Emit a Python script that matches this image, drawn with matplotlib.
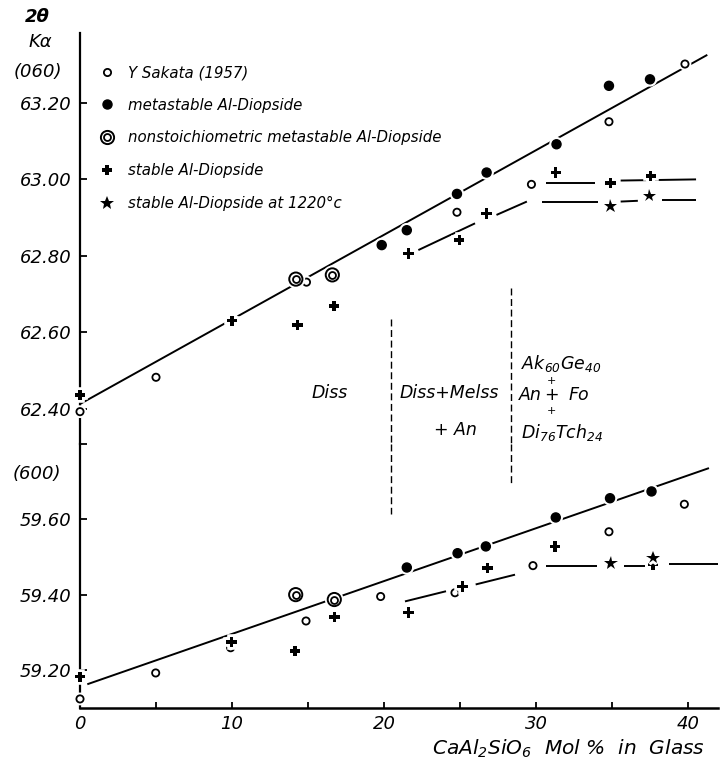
import matplotlib
matplotlib.use("Agg")
import matplotlib.pyplot as plt
import matplotlib.patheffects as pe
from matplotlib.lines import Line2D
from matplotlib.legend_handler import HandlerTuple

plt.rcParams['font.family'] = ['DejaVu Sans']
plt.rcParams['font.style'] = 'italic'
plt.rcParams['mathtext.default'] = 'it'

# ---------------- (060) reflection, 2-theta ----------------
sak_060_x = [0.0, 5.0, 14.9, 24.8, 29.7, 34.8, 39.8]
sak_060_y = [62.392, 62.482, 62.731, 62.914, 62.987, 63.151, 63.302]
meta_060_x = [10.0, 19.85, 21.5, 24.8, 26.75, 31.35, 34.8, 37.5]
meta_060_y = [62.630, 62.828, 62.867, 62.962, 63.018, 63.092, 63.245, 63.262]
nonst_060_x = [14.2, 16.6]
nonst_060_y = [62.739, 62.750]
stab_060_x = [0.0, 10.0, 14.3, 16.7, 21.6, 24.95, 26.75, 31.3, 34.9, 37.55]
stab_060_y = [62.436, 62.630, 62.619, 62.669, 62.806, 62.841, 62.911, 63.018,
              62.991, 63.009]
s1220_060_x = [34.9, 37.45]
s1220_060_y = [62.930, 62.957]

# fitted metastable trend and stable-phase trend pieces
fit_060_x = [0.0, 41.27]
fit_060_y = [62.412, 63.326]
stab_seg_060 = [
    ([22.26, 25.99], [62.815, 62.885]),
    ([27.4, 29.4], [62.907, 62.942]),
    ([30.37, 34.1], [62.942, 62.942]),
    ([35.57, 36.7], [62.942, 62.944]),
    ([38.3, 40.5], [62.946, 62.946]),
    ([30.66, 33.88], [62.991, 62.991]),
    ([35.57, 40.53], [62.997, 63.000]),
]

# ---------------- (600) reflection, 2-theta ----------------
sak_600_x = [0.0, 4.98, 9.91, 14.87, 19.78, 24.67, 29.8, 34.8, 39.76]
sak_600_y = [59.123, 59.192, 59.259, 59.330, 59.395, 59.405, 59.477, 59.567, 59.640]
meta_600_x = [21.5, 24.84, 26.7, 31.3, 34.87, 37.6]
meta_600_y = [59.472, 59.510, 59.528, 59.605, 59.656, 59.674]
nonst_600_x = [14.19, 16.73]
nonst_600_y = [59.400, 59.387]
stab_600_x = [0.0, 9.98, 14.14, 16.73, 21.6, 25.17, 26.8, 31.25, 37.7]
stab_600_y = [59.182, 59.274, 59.250, 59.340, 59.352, 59.422, 59.471, 59.528, 59.480]
s1220_600_x = [34.93, 37.7]
s1220_600_y = [59.484, 59.498]

fit_600_x = [0.48, 41.38]
fit_600_y = [59.162, 59.736]
stab_seg_600 = [
    ([21.38, 24.08], [59.382, 59.409]),
    ([26.03, 28.62], [59.427, 59.453]),
    ([30.64, 33.99], [59.475, 59.475]),
    ([35.79, 37.17], [59.477, 59.477]),
    ([38.75, 42.0], [59.482, 59.482]),
]

# phase-field boundaries (mol %) and their extent on each scale
bound_x = [20.46, 28.36]
bound_top_060 = [62.635, 62.716]
bound_bot_600 = [59.615, 59.694]

x_ticks = [0, 10, 20, 30, 40]
x_minor = [5, 15, 25, 35]
y_ticks_060 = [63.20, 63.00, 62.80, 62.60, 62.40]
y_ticks_600 = [59.60, 59.40, 59.20]

W, H = 720, 765
fig = plt.figure(figsize=(W / 100, H / 100), dpi=100)
fig.patch.set_facecolor('white')

def fx(px):
    return px / W

def fy(py):
    return 1 - py / H

left, right = 80, 718
ax_u = fig.add_axes([fx(left), fy(444), fx(right - left), (444 - 33) / H])
ax_l = fig.add_axes([fx(left), fy(708), fx(right - left), (708 - 444) / H])

xmax = (right - left) / 15.2
for ax in (ax_u, ax_l):
    ax.set_xlim(0, xmax)
    ax.set_facecolor('none')
    for s in ('top', 'right'):
        ax.spines[s].set_visible(False)
    ax.spines['left'].set_linewidth(1.6)
    ax.spines['bottom'].set_linewidth(1.8)
    ax.tick_params(axis='y', direction='in', length=5, width=1.3, pad=6,
                   labelsize=13)

ax_u.set_ylim(63.20 - (444 - 103) / 382, 63.20 + (103 - 33) / 382)
ax_l.set_ylim(59.80 - (708 - 443) / 378, 59.80)

ax_u.spines['bottom'].set_visible(False)
ax_u.tick_params(axis='x', bottom=False, labelbottom=False)
ax_u.set_yticks(y_ticks_060, [f"{v:.2f}" for v in y_ticks_060])
ax_l.set_yticks(y_ticks_600, [f"{v:.2f}" for v in y_ticks_600])
ax_l.set_yticks([59.80], minor=True)
ax_l.tick_params(axis='y', which='minor', direction='in', length=5, width=1.3)

ax_l.set_xticks(x_ticks, [str(v) for v in x_ticks])
ax_l.set_xticks(x_minor, minor=True)
ax_l.tick_params(axis='x', which='both', direction='in', length=4, width=1.3,
                 pad=5, labelsize=13)

halo = [pe.withStroke(linewidth=4, foreground='white')]
line_kw = dict(color='black', lw=1.4, solid_capstyle='butt', zorder=2)

def draw_panel(ax, fit_x, fit_y, segs, sak, meta, nonst, stab, s1220):
    ax.plot(fit_x, fit_y, clip_on=False, **line_kw)
    for sx, sy in segs:
        ax.plot(sx, sy, clip_on=False, **line_kw)
    mk = dict(ls='none', clip_on=False, zorder=4, path_effects=halo)
    ax.plot(*meta, marker='o', ms=6.5, mfc='black', mec='black', **mk)
    ax.plot(*sak, marker='o', ms=5.2, mfc='white', mec='black', mew=1.3, **mk)
    ax.plot(*nonst, marker='o', ms=9.5, mfc='white', mec='black', mew=1.4, **mk)
    ax.plot(*nonst, marker='o', ms=5.0, mfc='white', mec='black', mew=1.3,
            ls='none', clip_on=False, zorder=5)
    ax.plot(*stab, marker='P', ms=7.5, mfc='black', mec='black', mew=0, **mk)
    ax.plot(*s1220, marker='*', ms=10, mfc='black', mec='black', mew=0, **mk)

draw_panel(ax_u, fit_060_x, fit_060_y, stab_seg_060,
           (sak_060_x, sak_060_y), (meta_060_x, meta_060_y),
           (nonst_060_x, nonst_060_y), (stab_060_x, stab_060_y),
           (s1220_060_x, s1220_060_y))
draw_panel(ax_l, fit_600_x, fit_600_y, stab_seg_600,
           (sak_600_x, sak_600_y), (meta_600_x, meta_600_y),
           (nonst_600_x, nonst_600_y), (stab_600_x, stab_600_y),
           (s1220_600_x, s1220_600_y))

# dashed phase boundaries running across both scales
dash_kw = dict(color='black', lw=1.0, dashes=(5, 2.6), zorder=1)
for bx, top, bot in zip(bound_x, bound_top_060, bound_bot_600):
    ax_u.plot([bx, bx], [top, ax_u.get_ylim()[0]], **dash_kw)
    ax_l.plot([bx, bx], [ax_l.get_ylim()[1], bot], **dash_kw)

# phase-field labels
lab_kw = dict(fontsize=12.5, color='black', va='center')
ax_u.text(16.45, 62.441, "Diss", ha='center', **lab_kw)
ax_u.text(21.0, 62.441, "Diss+Melss", ha='left', **lab_kw)
ax_u.text(24.67, 62.344, "+ An", ha='center', **lab_kw)
ax_u.text(29.0, 62.519, r"Ak$_{60}$Ge$_{40}$", ha='left', **lab_kw)
ax_u.text(28.85, 62.436, "An", ha='left', **lab_kw)
ax_u.text(31.03, 62.436, "+", ha='center', **lab_kw)
ax_u.text(32.15, 62.436, "Fo", ha='left', **lab_kw)
ax_u.text(31.03, 62.472, "+", ha='center', fontsize=8, va='center')
ax_u.text(31.03, 62.393, "+", ha='center', fontsize=8, va='center')
ax_u.text(29.0, 62.338, r"Di$_{76}$Tch$_{24}$", ha='left', **lab_kw)

# axis captions
fig.text(fx(37), fy(17), "2θ", fontsize=13, weight='bold', ha='center', va='center')
fig.text(fx(40), fy(42), "Kα", fontsize=13, ha='center', va='center')
fig.text(fx(38), fy(72), "(060)", fontsize=13, ha='center', va='center')
fig.text(fx(37), fy(474), "(600)", fontsize=13, ha='center', va='center')
fig.text(fx(705), fy(749), r"CaAl$_2$SiO$_6$  Mol %  in  Glass", fontsize=14.5,
         ha='right', va='center')

# legend
h_sak = Line2D([], [], marker='o', ms=5.2, mfc='white', mec='black', mew=1.3, ls='none')
h_meta = Line2D([], [], marker='o', ms=6.5, mfc='black', mec='black', ls='none')
h_non = (Line2D([], [], marker='o', ms=9.5, mfc='white', mec='black', mew=1.4, ls='none'),
         Line2D([], [], marker='o', ms=5.0, mfc='white', mec='black', mew=1.3, ls='none'))
h_stab = Line2D([], [], marker='P', ms=7.5, mfc='black', mew=0, ls='none')
h_1220 = Line2D([], [], marker='*', ms=10, mfc='black', mew=0, ls='none')
leg = ax_u.legend(
    [h_sak, h_meta, h_non, h_stab, h_1220],
    ["Y Sakata (1957)", "metastable Al-Diopside",
     "nonstoichiometric metastable Al-Diopside", "stable Al-Diopside",
     "stable Al-Diopside at 1220°c"],
    handler_map={tuple: HandlerTuple(ndivide=1)},
    loc='upper left', bbox_to_anchor=((100 - left) / (right - left), (444 - 65) / 411),
    frameon=False, fontsize=10.8, handlelength=0.95, handletextpad=0.9,
    labelspacing=1.18, borderpad=0, borderaxespad=0)

fig.savefig("out.png", dpi=100, facecolor='white')
